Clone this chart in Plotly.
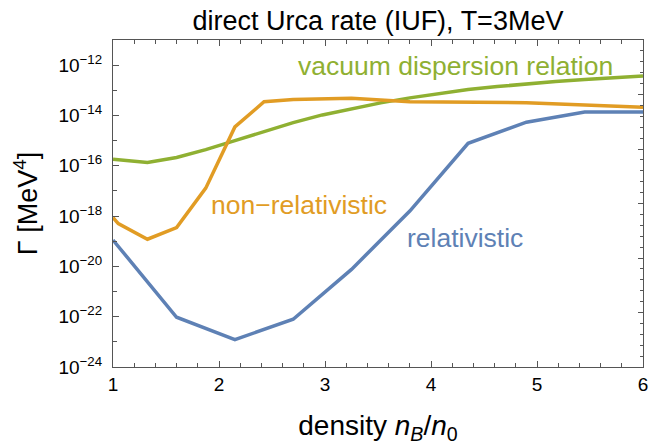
import plotly.graph_objects as go

# density n_B/n_0 and rates Gamma [MeV^4]
x_rel = [1, 1.6, 2.15, 2.7, 3.25, 3.8, 4.35, 4.9, 5.45, 6]
g_rel = [1.12e-19, 9.5e-23, 1.23e-23, 7.9e-23, 7.6e-21, 1.58e-18, 7.8e-16, 5.4e-15, 1.38e-14, 1.38e-14]

x_nonrel = [1, 1.05, 1.325, 1.6, 1.875, 2.15, 2.425, 2.7, 3.25, 3.8, 4.9, 6]
g_nonrel = [8.7e-19, 5.0e-19, 1.2e-19, 3.5e-19, 1.29e-17, 3.5e-15, 3.5e-14, 4.3e-14, 4.8e-14, 3.5e-14, 3.2e-14, 2.1e-14]

x_vac = [1, 1.325, 1.6, 1.875, 2.15, 2.425, 2.7, 2.975, 3.25, 3.525, 3.8, 4.075, 4.35, 4.625, 4.9, 5.175, 5.45, 5.725, 6]
g_vac = [1.82e-16, 1.35e-16, 2.14e-16, 4.4e-16, 1.0e-15, 2.34e-15, 5.2e-15, 1.05e-14, 1.86e-14, 3.16e-14, 5.0e-14,
         7.4e-14, 1.07e-13, 1.41e-13, 1.82e-13, 2.24e-13, 2.69e-13, 3.16e-13, 3.7e-13]

y_major_exp = [-24, -22, -20, -18, -16, -14, -12]
y_minor_exp = [-23, -21, -19, -17, -15, -13, -11]
y_tick_text = ["10<sup>\u2212%d</sup>" % (-e) for e in y_major_exp]
x_tick_vals = [1, 2, 3, 4, 5, 6]
x_tick_text = ["1", "2", "3", "4", "5", "6"]

BLUE = "#5E81B5"
ORANGE = "#E19C24"
GREEN = "#8FB032"
FRAME = "#555555"
FONT = "Liberation Sans"
LW = 3.5

fig = go.Figure()
fig.add_trace(go.Scatter(x=x_vac, y=g_vac, mode="lines", line=dict(color=GREEN, width=LW), showlegend=False))
fig.add_trace(go.Scatter(x=x_nonrel, y=g_nonrel, mode="lines", line=dict(color=ORANGE, width=LW), showlegend=False))
fig.add_trace(go.Scatter(x=x_rel, y=g_rel, mode="lines", line=dict(color=BLUE, width=LW), showlegend=False))
# empty trace so the right-hand frame axis is drawn
fig.add_trace(go.Scatter(x=[], y=[], yaxis="y2", showlegend=False))

fig.update_layout(
    width=649, height=445,
    margin=dict(l=113, r=6, t=40, b=78, autoexpand=False),
    paper_bgcolor="white", plot_bgcolor="white",
    font=dict(family=FONT, color="black"),
    title=dict(text="direct Urca rate (IUF), T=3MeV", x=(113 + 643) / 2 / 649, xanchor="center",
               y=1 - 21 / 445, yanchor="middle", yref="container", font=dict(size=27, color="black")),
    xaxis=dict(
        range=[1, 6], showgrid=False, zeroline=False, automargin=False,
        showline=True, linecolor=FRAME, linewidth=1.2, mirror="ticks",
        ticks="inside", ticklen=6, tickwidth=1, tickcolor=FRAME,
        tickvals=x_tick_vals, ticktext=x_tick_text,
        minor=dict(ticks="inside", ticklen=3.5, dtick=0.2, tick0=1, tickcolor=FRAME, showgrid=False),
        tickfont=dict(size=19, color="black"), ticklabelstandoff=0,
        title=dict(text="density <i>n</i><sub><i>B</i></sub>/<i>n</i><sub>0</sub>", font=dict(size=28, color="black"), standoff=26),
    ),
    yaxis=dict(
        type="log", range=[-24, -11], showgrid=False, zeroline=False, automargin=False,
        showline=True, linecolor=FRAME, linewidth=1.2, mirror=False,
        ticks="inside", ticklen=6, tickwidth=1, tickcolor=FRAME,
        tickvals=[10.0 ** e for e in y_major_exp], ticktext=y_tick_text,
        minor=dict(ticks="inside", ticklen=4, tickvals=[10.0 ** e for e in y_minor_exp], tickcolor=FRAME, showgrid=False),
        tickfont=dict(size=19, color="black"), ticklabelstandoff=6,
        title=dict(text="\u0393 [MeV<sup>4</sup>]", font=dict(size=27, color="black"), standoff=12),
    ),
    yaxis2=dict(
        overlaying="y", side="right", anchor="x", range=[0, 30], showgrid=False, zeroline=False,
        showline=True, linecolor=FRAME, linewidth=1.2, automargin=False,
        ticks="inside", ticklen=5, tickcolor=FRAME, dtick=5, tick0=0, showticklabels=False,
        minor=dict(ticks="inside", ticklen=3, dtick=1, tickcolor=FRAME, showgrid=False),
        fixedrange=True,
    ),
    annotations=[
        dict(text="vacuum dispersion relation", x=4.23, y=-12.04, xref="x", yref="y", showarrow=False,
             font=dict(size=26.5, color=GREEN), xanchor="center", yanchor="middle"),
        dict(text="non\u2212relativistic", x=2.75, y=-17.56, xref="x", yref="y", showarrow=False,
             font=dict(size=26.5, color=ORANGE), xanchor="center", yanchor="middle"),
        dict(text="relativistic", x=4.32, y=-18.87, xref="x", yref="y", showarrow=False,
             font=dict(size=26.5, color=BLUE), xanchor="center", yanchor="middle"),
    ],
)

fig.write_html("out.html", config={"displayModeBar": False},
               post_script="document.body.style.margin='0';document.body.style.overflow='hidden';")
